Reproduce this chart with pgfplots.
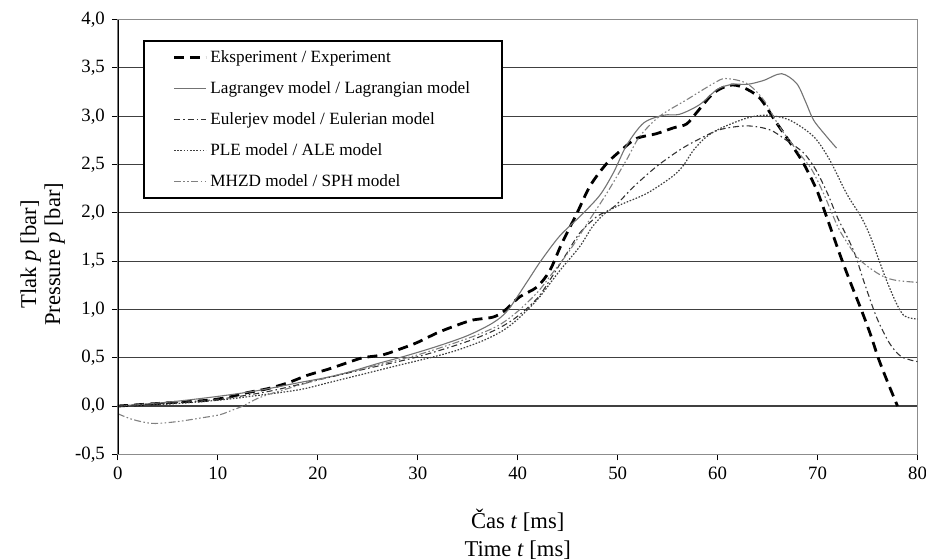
\documentclass[border=0pt]{standalone}
\usepackage{fontspec}
\setmainfont{Liberation Serif}
\usepackage{pgfplots}
\pgfplotsset{compat=1.18}

% measured pressure and the four simulations
\pgfplotstableread{
x y
0 0
3 0.02
6 0.04
9 0.06
11 0.09
13 0.14
15 0.18
17 0.24
19 0.32
21 0.38
23 0.45
24.5 0.50
26.5 0.53
28.5 0.60
30 0.66
32 0.76
34 0.84
35.5 0.89
37.5 0.92
38.6 0.98
40.2 1.13
41.9 1.23
43.2 1.40
44.4 1.68
45.9 1.99
47.25 2.28
48.9 2.51
50.6 2.67
51.9 2.77
53.9 2.82
55.6 2.88
56.9 2.92
58 3.05
59.6 3.24
61.2 3.32
62.5 3.30
64.2 3.19
65.9 2.93
67.3 2.72
68.6 2.51
69.9 2.24
70.9 1.96
72.3 1.55
73.4 1.25
74.4 0.99
75.3 0.74
76.1 0.49
77 0.25
78 0
}\experiment

\pgfplotstableread{
x y
0 0
5 0.04
10 0.10
14 0.16
18 0.24
22 0.32
26 0.44
28.5 0.51
32 0.62
35 0.73
37.5 0.86
39 0.99
40.9 1.28
42.3 1.50
44.2 1.76
46.2 1.96
48.2 2.18
49.6 2.42
50.9 2.70
52.6 2.93
54.6 3.01
56.2 3.02
58.2 3.12
60 3.28
61.5 3.33
63 3.33
64.6 3.37
66.4 3.44
67.9 3.34
68.8 3.15
69.6 2.96
70.9 2.79
71.9 2.67
}\lagrange

\pgfplotstableread{
x y
0 0
5 0.03
10 0.07
15 0.15
20 0.27
25 0.39
30 0.51
35 0.67
38 0.80
40 0.93
42 1.12
43.5 1.35
44.9 1.58
46.2 1.79
47.9 1.96
49.6 2.06
51.6 2.27
53.9 2.48
56.2 2.65
57.9 2.75
60.2 2.86
62.9 2.90
65.2 2.86
66.9 2.75
68.6 2.62
69.8 2.45
71 2.20
72 1.95
73.6 1.61
74.6 1.30
75.9 0.92
77.2 0.65
78.4 0.51
80 0.46
}\euler

\pgfplotstableread{
x y
0 0
5 0.02
10 0.06
14 0.11
18.2 0.17
21 0.24
24.9 0.34
28 0.42
31.6 0.51
34 0.58
36.6 0.68
38.5 0.78
39.9 0.89
41 1.00
42.2 1.13
44.2 1.40
46.2 1.65
47.5 1.86
48.8 2.00
50.2 2.08
52.9 2.20
55.4 2.37
56.5 2.48
57.6 2.65
58.8 2.78
60.2 2.87
62.9 2.98
64.9 3.01
67.2 2.96
69.6 2.79
71.2 2.55
72.9 2.20
74.4 1.95
75.3 1.75
76 1.55
76.9 1.30
77.9 1.06
78.6 0.94
79.3 0.91
80 0.90
}\ale

\pgfplotstableread{
x y
0 -0.08
1.5 -0.14
3.5 -0.18
6 -0.16
8.5 -0.12
10.2 -0.09
11.5 -0.04
12.5 0.0
14 0.08
16 0.15
20 0.27
25 0.40
30 0.53
35 0.70
38 0.83
40 0.98
42 1.18
43.5 1.38
45.2 1.61
47.2 1.93
48.9 2.20
50.9 2.55
52.2 2.79
54.2 3.00
56.9 3.17
59.6 3.34
60.8 3.39
62.9 3.34
64.6 3.17
66.2 2.89
67.9 2.65
69.4 2.45
70.6 2.20
71.5 1.98
72.3 1.80
73.9 1.55
75.2 1.43
76.6 1.34
77.9 1.30
80 1.28
}\sph

\begin{document}
\begin{tikzpicture}
\begin{axis}[
    scale only axis,
    width=400pt, height=217.5pt,
    xmin=0, xmax=80, ymin=-0.5, ymax=4,
    xtick={0,10,...,80},
    ytick={-0.5,0,...,4},
    tick align=outside,
    xtick pos=bottom, ytick pos=left,
    major tick length=3pt,
    tick style={black, line width=0.5pt},
    axis line style={black!45, line width=0.8pt},
    ymajorgrids,
    major grid style={black!75, line width=0.6pt},
    /pgf/number format/assume math mode=true,
    ticklabel style={font=\fontsize{9.4}{11}\selectfont},
    yticklabel style={/pgf/number format/.cd, fixed, fixed zerofill, precision=1, use comma},
    xticklabel style={/pgf/number format/.cd, fixed, precision=0},
    xlabel={Čas \textit{t} [ms]\\Time \textit{t} [ms]},
    ylabel={Tlak \textit{p} [bar]\\Pressure \textit{p} [bar]},
    xlabel style={font=\fontsize{11.3}{14}\selectfont, align=center,
        at={(axis description cs:0.5,-0.183)}, anchor=center},
    ylabel style={font=\fontsize{11.3}{12}\selectfont, align=center,
        at={(axis description cs:-0.094,0.46)}, anchor=center},
    legend cell align=left,
    legend image code/.code={\draw[#1] (0pt,0pt) -- (16pt,0pt);},
    legend style={at={(0.031,0.952)}, anchor=north west,
        draw=black, line width=0.9pt, fill=white,
        font=\fontsize{8.6}{10.5}\selectfont,
        inner xsep=14.5pt, inner ysep=2pt, row sep=3pt,
        nodes={inner xsep=1.5pt, inner ysep=2pt, text height=6.5pt, text depth=2pt}},
    every axis plot/.append style={no marks, smooth, tension=0.5},
]
\addplot[black, line width=1.4pt, dash pattern=on 5pt off 3pt] table {\experiment};
\addlegendentry{Eksperiment / Experiment}
\addplot[black!55, line width=0.55pt, solid] table {\lagrange};
\addlegendentry{Lagrangev model / Lagrangian model}
\addplot[black!80, line width=0.55pt, dash pattern=on 3pt off 1.5pt on 0.8pt off 1.5pt] table {\euler};
\addlegendentry{Eulerjev model / Eulerian model}
\addplot[black!75, line width=0.6pt, dash pattern=on 0.8pt off 0.8pt] table {\ale};
\addlegendentry{PLE model / ALE model}
\addplot[black!50, line width=0.55pt, dash pattern=on 3.5pt off 1.2pt on 0.8pt off 1.2pt on 0.8pt off 1.2pt] table {\sph};
\addlegendentry{MHZD model / SPH model}
\draw[black, line width=0.6pt] (rel axis cs:0,0) -- (rel axis cs:0,1);
\coordinate (bl) at (rel axis cs:0,0);
\coordinate (tr) at (rel axis cs:1,1);
\end{axis}
\pgfresetboundingbox
\path ([xshift=-59pt,yshift=-52.85pt]bl) rectangle ([xshift=4.25pt,yshift=9.8pt]tr);
\end{tikzpicture}
\end{document}
